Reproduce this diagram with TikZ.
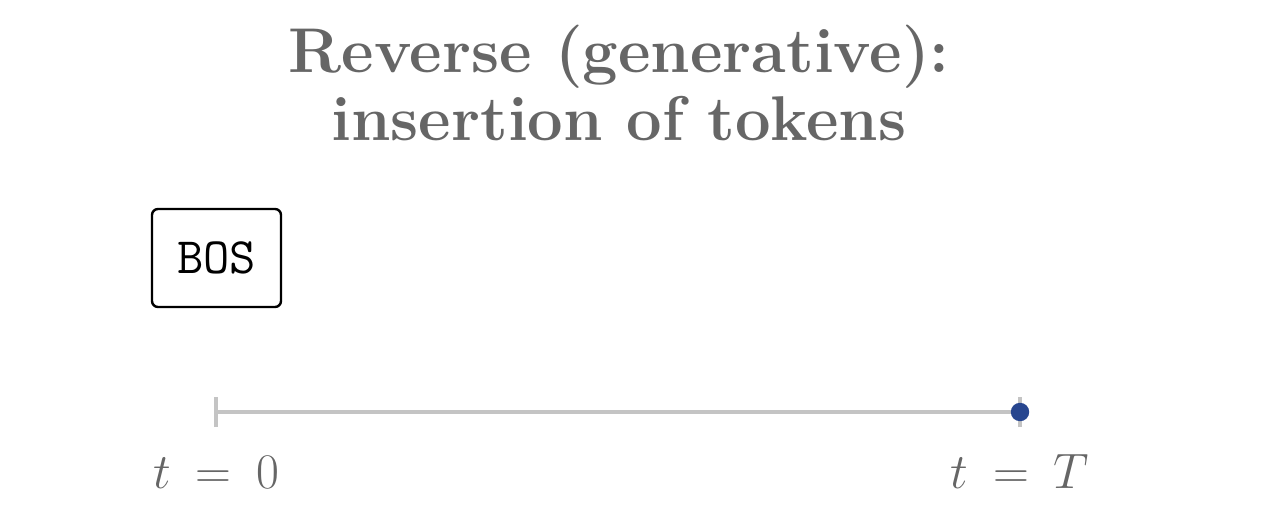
\documentclass[tikz,border=0pt]{standalone}
\usepackage{fontspec}
\definecolor{titlegray}{HTML}{666666}
\definecolor{linegray}{HTML}{C4C4C4}
\definecolor{dotblue}{HTML}{27468F}
\begin{document}
\begin{tikzpicture}[x=0.5pt,y=-0.5pt,
  titletext/.style={font=\fontsize{31.6}{36}\selectfont\bfseries, text=titlegray, anchor=base, inner sep=0pt},
  tokenbox/.style={draw=black, line width=1.2pt, rounded corners=3pt, minimum width=64.5pt, minimum height=49pt, inner sep=0pt, font=\fontsize{25.5}{28}\selectfont\ttfamily},
  timeline/.style={draw=linegray, line width=2pt},
  timelabel/.style={text=titlegray, anchor=base, inner sep=0pt, font=\fontsize{32}{35}\selectfont}
]
\useasboundingbox (0,0) rectangle (1280,514);
\node[titletext] (t1) at (619,72) {Reverse (generative):};
\node[titletext] (t2) at (619,140) {insertion of tokens};
\node[tokenbox] (bos) at (216.5,258) {BOS};
\coordinate (start) at (216,412);
\coordinate (end) at (1020,412);
\draw[timeline] (start) -- (end);
\draw[timeline] ([yshift=-7.5pt]start) -- ([yshift=7.5pt]start);
\draw[timeline] ([yshift=-7.5pt]end) -- ([yshift=7.5pt]end);
\fill[dotblue] (end) circle (4.6pt);
\node[timelabel] (l0) at (216,488) {$t \mskip4mu = \mskip4mu 0$};
\node[timelabel] (lT) at (1020,488) {$t \mskip4mu = \mskip4mu T$};
\end{tikzpicture}
\end{document}
